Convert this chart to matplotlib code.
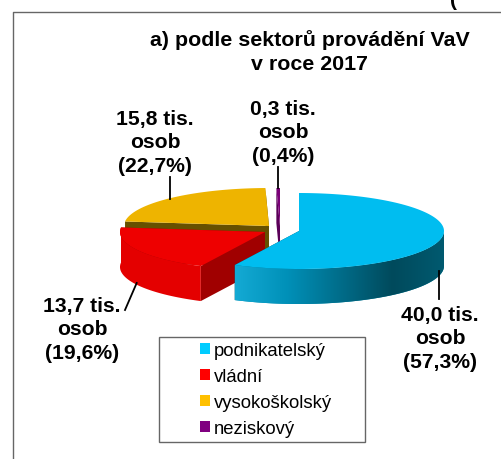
import numpy as np
import matplotlib
matplotlib.use('Agg')
import matplotlib.pyplot as plt
from matplotlib.patches import Polygon, Rectangle, Patch
from matplotlib.colors import LinearSegmentedColormap

plt.rcParams['font.family'] = ['Liberation Sans', 'DejaVu Sans']

# data
sectors = ['podnikatelský', 'vládní', 'vysokoškolský', 'neziskový']
shares = [57.3, 19.6, 22.7, 0.4]
labels = ['40,0 tis.\nosob\n(57,3%)', '13,7 tis.\nosob\n(19,6%)',
          '15,8 tis.\nosob\n(22,7%)', '0,3 tis.\nosob\n(0,4%)']
title = 'a) podle sektorů provádění VaV\nv roce 2017'

# looks
top_colors = ['#00bdf0', '#ee0000', '#eeb400', '#7a0078']
legend_colors = ['#00ccff', '#ff0000', '#ffc000', '#800080']
side_colors = ['#0088aa', '#e40000', '#c09000', '#5a0058']
cut_colors = ['#004a5c', '#a00000', '#665000', '#5a0058']
centers = [(299, 232), (265, 233), (269, 227), (280, 227)]
a, b, depth = 145, 38, 35
label_pos = [(440, 339), (82, 330), (155, 143), (283, 133)]
leaders = [((439, 272), (439, 300)), ((136.7, 284), (125, 311)),
           ((170.5, 200), (170.5, 178)), ((278, 189), (278, 168))]

fig = plt.figure(figsize=(5.01, 4.60), dpi=100)
ax = fig.add_axes([0, 0, 1, 1])
ax.set_xlim(0, 501)
ax.set_ylim(460, 0)
ax.axis('off')


def rim(cx, cy, t0, t1):
    t = np.radians(np.linspace(t0, t1, 120))
    return cx + a * np.sin(t), cy - b * np.cos(t)


def draw_slice(i, t0, t1, z):
    cx, cy = centers[i]
    x, y = rim(cx, cy, t0, t1)
    # cut faces
    for tt in (t0, t1):
        xe, ye = rim(cx, cy, tt, tt)
        ax.add_patch(Polygon([(cx, cy), (xe[0], ye[0]), (xe[0], ye[0] + depth), (cx, cy + depth)],
                             fc=cut_colors[i], ec='none', zorder=z))
    # outer wall, only the part turned to the viewer
    lo, hi = max(t0, 90), min(t1, 276.9)
    if lo < hi:
        xs, ys = rim(cx, cy, lo, hi)
        pts = np.r_[np.c_[xs, ys], np.c_[xs, ys + depth][::-1]]
        wall = Polygon(pts, fc=side_colors[i], ec='none', zorder=z + 0.1)
        ax.add_patch(wall)
        if i == 0:
            cm = LinearSegmentedColormap.from_list('wall', [(0, '#14aad4'), (0.25, '#0090b8'),
                                                            (0.75, '#004a5c'), (1, '#005a70')])
            im = ax.imshow(np.linspace(0, 1, 256)[None, :], cmap=cm, aspect='auto',
                           extent=(xs.min(), xs.max(), ys.max() + depth, ys.min()), zorder=z + 0.2)
            im.set_clip_path(wall)
    # top face
    ax.add_patch(Polygon(np.r_[[(cx, cy)], np.c_[x, y]], fc=top_colors[i], ec='none', zorder=z + 0.5))


edges = np.r_[0, np.cumsum(shares)] / np.sum(shares) * 360
for z, i in enumerate([2, 3, 1, 0]):
    draw_slice(i, edges[i], edges[i + 1], 10 + z)
ax.set_xlim(0, 501)
ax.set_ylim(460, 0)

# frame
ax.plot([13, 13, 501], [460, 13, 13], color='#666666', lw=1.0, clip_on=False)
ax.text(450, 1, '(', fontsize=15, fontweight='bold', ha='left', va='center')
ax.text(310, 52, title, fontsize=15.4, fontweight='bold', ha='center', va='center', linespacing=1.27)

for i in range(4):
    ax.text(*label_pos[i], labels[i], fontsize=15.2, fontweight='bold', ha='center', va='center', linespacing=1.28)
    ax.plot(*zip(*leaders[i]), color='black', lw=1.3, zorder=20)

# legend
ax.add_patch(Rectangle((159, 338), 206.5, 105, fc='white', ec='#666666', lw=1.0, zorder=25))
handles = [Patch(fc=c, ec='none') for c in legend_colors]
ax.legend(handles, sectors, loc='center left', bbox_to_anchor=(200 / 501, 1 - 390.5 / 460), frameon=False,
          fontsize=13.3, handlelength=0.54, handleheight=0.54, handletextpad=0.2, labelspacing=0.5,
          borderpad=0, borderaxespad=0).set_zorder(30)

fig.savefig('out.png', dpi=100)
